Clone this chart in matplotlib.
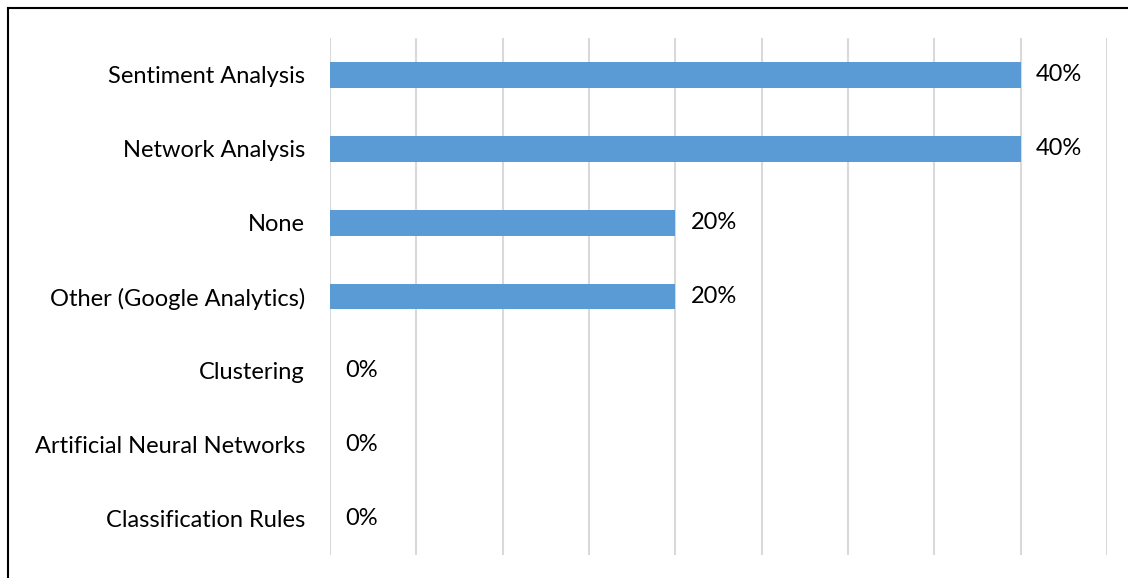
import matplotlib
matplotlib.use('Agg')
import matplotlib.pyplot as plt
from matplotlib.lines import Line2D

plt.rcParams['font.family'] = ['Lato', 'DejaVu Sans']

categories = ['Sentiment Analysis', 'Network Analysis', 'None',
              'Other (Google Analytics)', 'Clustering',
              'Artificial Neural Networks', 'Classification Rules']
values = [40, 40, 20, 20, 0, 0, 0]
xticks = list(range(0, 50, 5))

fig = plt.figure(figsize=(11.28, 5.78), dpi=100)
ax = fig.add_axes([330 / 1128, 1 - 555 / 578, 777 / 1128, 517 / 578])

ypos = list(range(len(categories)))
ax.barh(ypos, values, height=0.35, color='#5b9bd5', zorder=3)
for y, v in zip(ypos, values):
    ax.annotate('%d%%' % v, (v, y), xytext=(11, 0), textcoords='offset points',
                va='center', ha='left', fontsize=17, color='#000000')

ax.set_xlim(0, 45)
ax.set_ylim(len(categories) - 0.5, -0.5)
ax.set_xticks(xticks)
ax.xaxis.grid(True, color='#d9d9d9', linewidth=1.5, zorder=0)
ax.tick_params(axis='x', bottom=False, labelbottom=False)
ax.set_yticks(ypos)
ax.set_yticklabels(categories, fontsize=17)
ax.tick_params(axis='y', length=0, pad=18)
for s in ax.spines.values():
    s.set_visible(False)

# outer border (top and left only visible)
fig.add_artist(Line2D([8 / 1128, 1], [1 - 8 / 578, 1 - 8 / 578], color='black', lw=1.5,
                      transform=fig.transFigure))
fig.add_artist(Line2D([8 / 1128, 8 / 1128], [0, 1 - 8 / 578], color='black', lw=1.5,
                      transform=fig.transFigure))

fig.savefig('out.png', dpi=100)
